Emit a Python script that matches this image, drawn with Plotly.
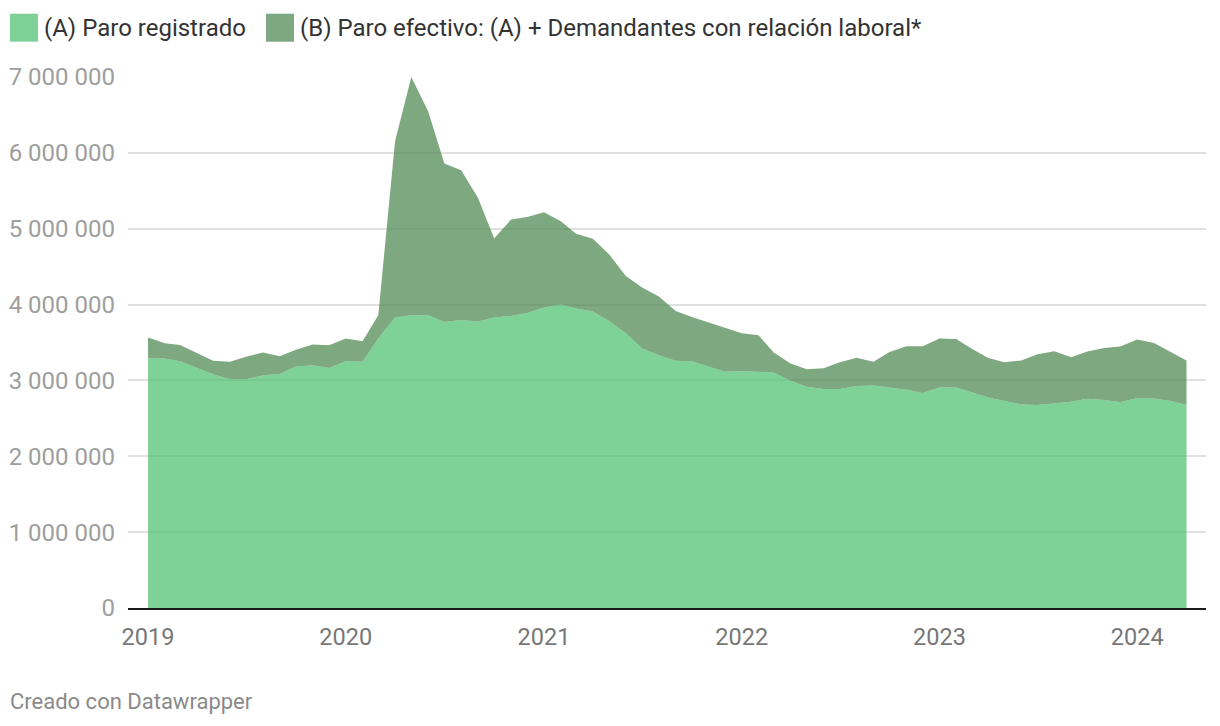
import plotly.graph_objects as go
import pandas as pd

# ---- data (millions of people) ----
months = pd.date_range("2019-01-01", "2024-04-01", freq="MS")

paro_registrado = [
    3.293, 3.290, 3.254, 3.170, 3.083, 3.017, 3.015, 3.068, 3.085, 3.182, 3.200, 3.163,
    3.254, 3.245, 3.553, 3.829, 3.859, 3.860, 3.771, 3.797, 3.776, 3.829, 3.850, 3.890,
    3.961, 4.000, 3.947, 3.908, 3.784, 3.622, 3.421, 3.333, 3.258, 3.254, 3.179, 3.113,
    3.122, 3.113, 3.105, 2.995, 2.916, 2.886, 2.886, 2.927, 2.934, 2.908, 2.876, 2.833,
    2.908, 2.908, 2.842, 2.776, 2.728, 2.684, 2.675, 2.701, 2.718, 2.758, 2.741, 2.711,
    2.767, 2.763, 2.732, 2.675,
]

paro_efectivo = [
    3.566, 3.490, 3.468, 3.359, 3.258, 3.245, 3.311, 3.368, 3.320, 3.403, 3.474, 3.464,
    3.553, 3.517, 3.859, 6.153, 7.000, 6.547, 5.859, 5.771, 5.408, 4.872, 5.120, 5.155,
    5.218, 5.100, 4.934, 4.868, 4.662, 4.376, 4.224, 4.105, 3.916, 3.837, 3.763, 3.697,
    3.622, 3.596, 3.368, 3.224, 3.149, 3.162, 3.241, 3.300, 3.245, 3.376, 3.451, 3.451,
    3.553, 3.547, 3.421, 3.297, 3.241, 3.263, 3.346, 3.386, 3.307, 3.382, 3.429, 3.447,
    3.539, 3.495, 3.382, 3.263,
]

series_names = [
    "(A) Paro registrado",
    "(B) Paro efectivo: (A) + Demandantes con relación laboral*",
]
footer_text = "Creado con Datawrapper"

y_tickvals = [0, 1e6, 2e6, 3e6, 4e6, 5e6, 6e6, 7e6]

# ---- styling ----
OFF = 8                      # page body margin
W, H = 1220 - OFF, 726 - OFF
PL, PR, PT, PB = 128, 1206, 77.3, 608.5   # plot area in page pixels
ML, MR, MT, MB = PL - OFF, W - (PR - OFF), PT - OFF, H - (PB - OFF)
FONT = "Roboto"
c_light = "rgba(84,195,116,0.75)"
c_dark = "rgba(83,139,84,0.75)"
c_light_legend = "#7fd297"
c_dark_legend = "#7ea87f"


def px_x(x):
    return (x - PL) / (PR - PL)


def px_y(y):
    return (PB - y) / (PB - PT)


a_vals = [v * 1e6 for v in paro_registrado]
b_vals = [v * 1e6 for v in paro_efectivo]

fig = go.Figure()
fig.add_trace(go.Scatter(
    x=months, y=a_vals, mode="lines", line=dict(width=0, color=c_light),
    fill="tozeroy", fillcolor=c_light, name=series_names[0], showlegend=False,
))
fig.add_trace(go.Scatter(
    x=months, y=b_vals, mode="lines", line=dict(width=0, color=c_dark),
    fill="tonexty", fillcolor=c_dark, name=series_names[1], showlegend=False,
))

# legend drawn manually (Datawrapper style squares)
legend_items = [
    (10, 42, c_light_legend, series_names[0]),
    (266, 298, c_dark_legend, series_names[1]),
]
for sq_x, tx, col, label in legend_items:
    fig.add_shape(type="rect", xref="paper", yref="paper",
                  x0=px_x(sq_x), x1=px_x(sq_x + 28), y0=px_y(42), y1=px_y(14),
                  fillcolor=col, line=dict(width=0))
    fig.add_annotation(xref="paper", yref="paper", x=px_x(tx), y=px_y(28),
                       xanchor="left", yanchor="middle", showarrow=False,
                       text=label, font=dict(family=FONT, size=24, color="#333333"))

fig.add_annotation(xref="paper", yref="paper", x=px_x(8), y=px_y(702),
                   xanchor="left", yanchor="middle", showarrow=False,
                   text=footer_text, font=dict(family=FONT, size=22, color="#8a8a8a"))

fig.update_layout(
    width=W, height=H,
    margin=dict(l=ML, r=MR, t=MT, b=MB, pad=0, autoexpand=False),
    paper_bgcolor="white", plot_bgcolor="white",
    separators=", ",
    font=dict(family=FONT),
    showlegend=False,
    xaxis=dict(
        type="date", automargin=False,
        range=["2018-11-25", "2024-05-07"],
        tick0="2019-01-01", dtick="M12", tickformat="%Y",
        showgrid=False, zeroline=False,
        showline=True, linecolor="#1a1a1a", linewidth=2,
        ticks="", ticklabelstandoff=7,
        tickfont=dict(family=FONT, size=23.5, color="#777777"),
    ),
    yaxis=dict(
        range=[0, 7e6], automargin=False,
        tickvals=y_tickvals, tickformat=",d",
        showgrid=True, gridcolor="#e0e0e0", gridwidth=1.5,
        zeroline=False, showline=False, ticks="",
        ticklabelstandoff=12,
        tickfont=dict(family=FONT, size=24, color="#9e9e9e"),
    ),
)

fig.write_html("out.html")
